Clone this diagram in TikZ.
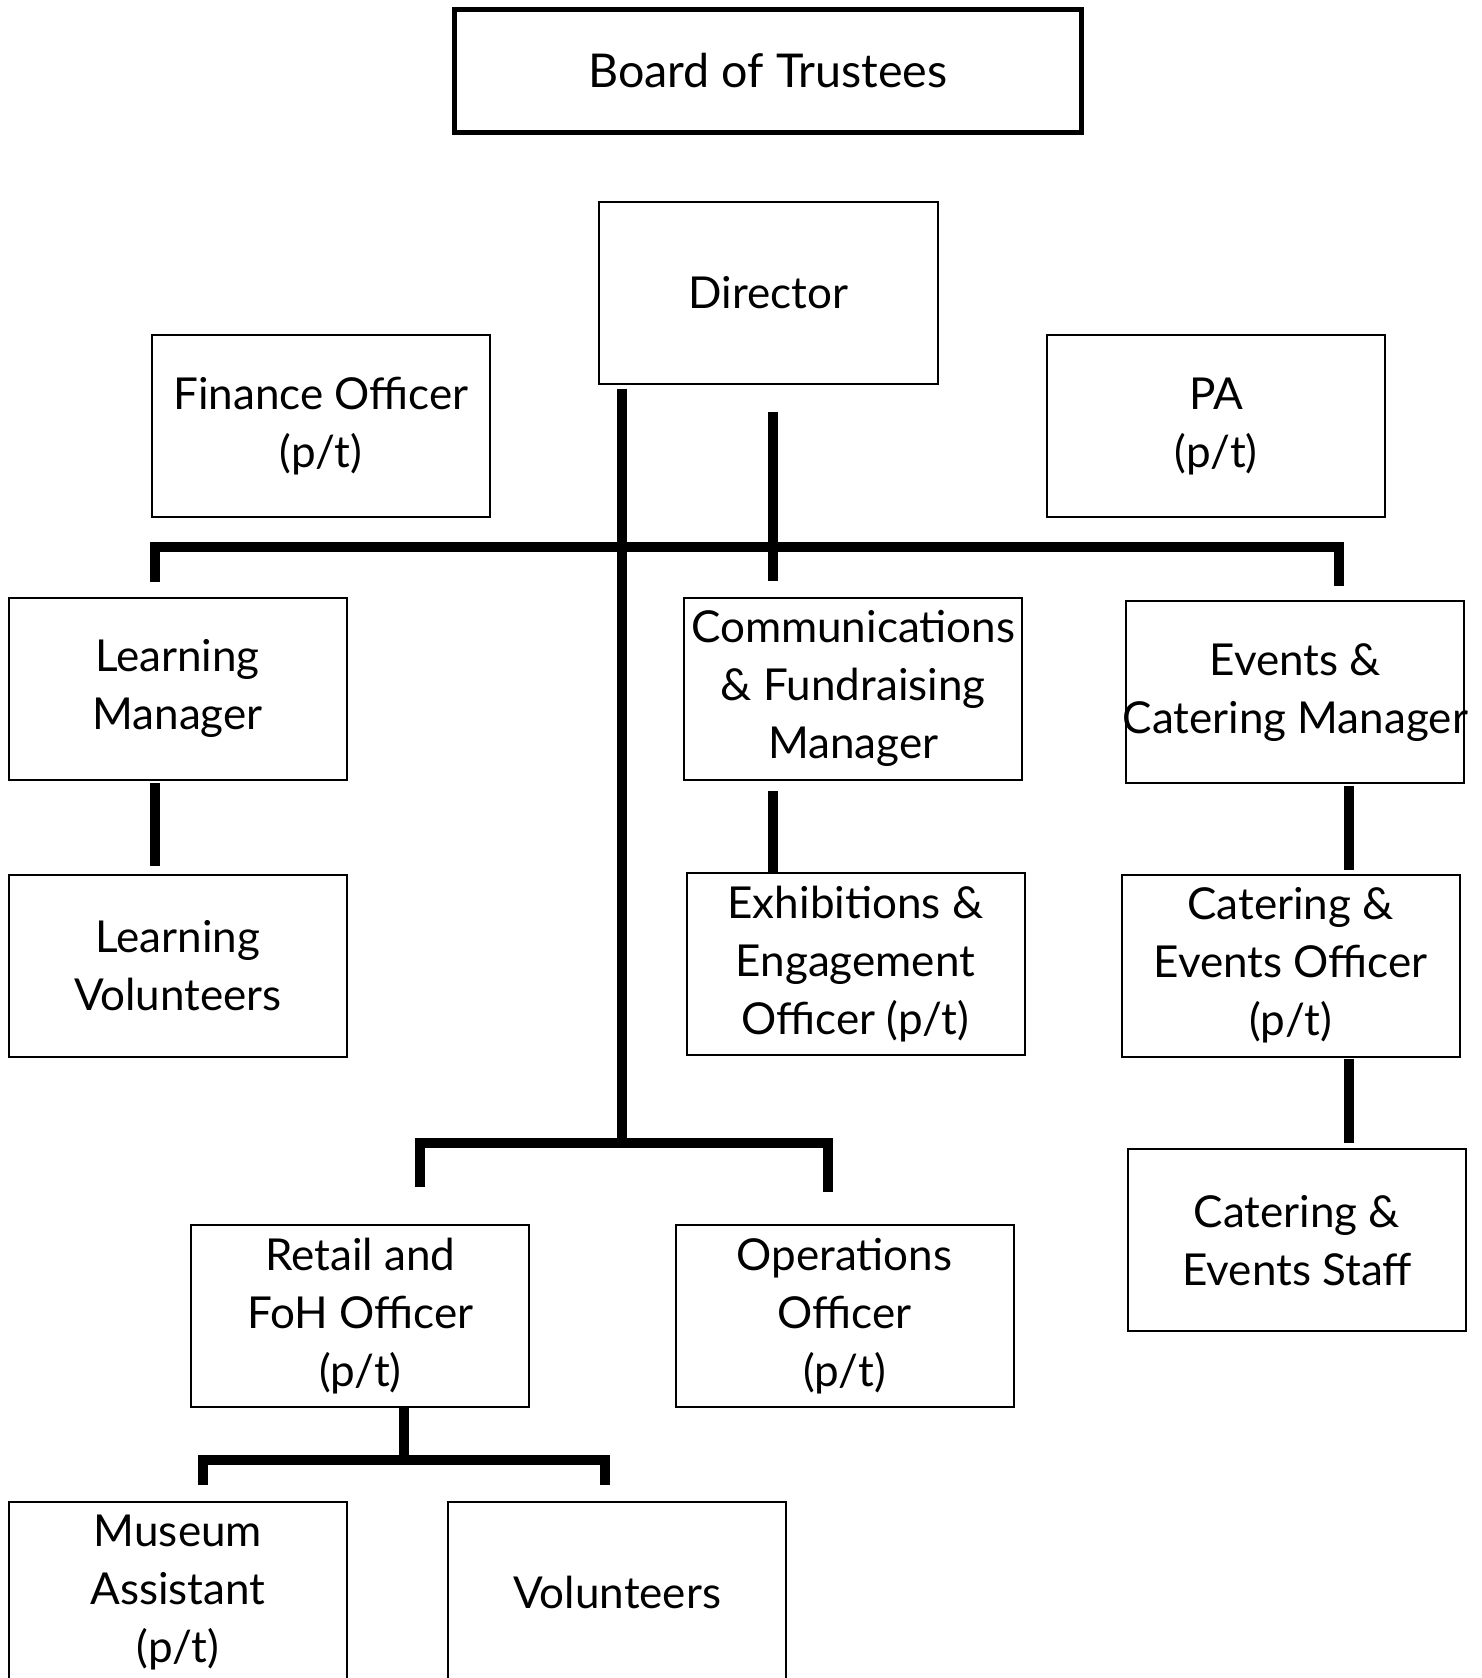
\documentclass[tikz,border=0pt]{standalone}
\usepackage{fontspec}
\setmainfont{Lato}
\begin{document}
\begin{tikzpicture}[x=0.5pt,y=-0.5pt,
  box/.style={draw=black, line width=1pt, minimum width=169pt, minimum height=91pt,
    inner sep=0pt, align=center, font=\fontsize{22}{29}\selectfont},
  bigbox/.style={box, line width=2.4pt, minimum width=313.6pt, minimum height=61.2pt,
    font=\fontsize{23.3}{29}\selectfont},
  conn/.style={draw=black, line width=5pt, line cap=butt, line join=miter}]
\useasboundingbox (0,0) rectangle (1482,1678);
\fill[white] (0,0) rectangle (1482,1678);

% boxes
\node[bigbox] (board) at (768,71) {Board of Trustees};
\node[box, minimum width=169.5pt] (dir) at (768.2,292.8) {Director};
\node[box] (fin) at (321,426.2) {Finance Officer\\(p/t)};
\node[box] (pa) at (1216.2,426.2) {PA\\(p/t)};
\node[box] (lm) at (177.5,688.7) {Learning\\Manager};
\node[box] (comms) at (853.2,688.7) {Communications\\\& Fundraising\\Manager};
\node[box] (ecm) at (1295.3,692.4) {Events \&\\\makebox[0pt]{Catering Manager}};
\node[box] (lv) at (177.9,966) {Learning\\Volunteers};
\node[box] (exh) at (855.5,964.4) {Exhibitions \&\\Engagement\\Officer (p/t)};
\node[box] (ceo) at (1290.7,965.7) {Catering \&\\Events Officer\\(p/t)};
\node[box] (ces) at (1297,1240.4) {Catering \&\\Events Staff};
\node[box] (retail) at (360.3,1316.4) {Retail and\\FoH Officer\\(p/t)};
\node[box] (ops) at (844.5,1316.4) {Operations\\Officer\\(p/t)};
\node[box] (ma) at (177.9,1592.7) {Museum\\Assistant\\(p/t)};
\node[box] (vol) at (617.2,1592.7) {Volunteers};

% connector coordinates
\coordinate (mainTop) at (621.5,388.5);
\coordinate (mainBot) at (621.5,1142.5);
\coordinate (dirStub) at (772.8,411.7);
\coordinate (dirStubEnd) at (772.8,581);
\coordinate (barL) at (155,546.5);
\coordinate (barR) at (1339,546.5);
\coordinate (lmDrop) at (155,581.5);
\coordinate (ecmDrop) at (1339,586);
\coordinate (lmOut) at (155,783);
\coordinate (lvIn) at (155,866);
\coordinate (commsOut) at (772.9,791);
\coordinate (exhIn) at (772.9,874);
\coordinate (ecmOut) at (1348.7,786.4);
\coordinate (ceoIn) at (1348.7,870);
\coordinate (ceoOut) at (1348.7,1058.6);
\coordinate (cesIn) at (1348.7,1142.5);
\coordinate (lowL) at (420.4,1142.5);
\coordinate (lowR) at (828,1142.5);
\coordinate (retailIn) at (420.4,1187.4);
\coordinate (opsIn) at (828,1192);
\coordinate (retailOut) at (404.2,1408);
\coordinate (retailBar) at (404.2,1460.3);
\coordinate (botL) at (202.7,1460.3);
\coordinate (botR) at (605,1460.3);
\coordinate (maIn) at (202.7,1485.2);
\coordinate (volIn) at (605,1485.2);

% connectors
\draw[conn] (mainTop) -- (mainBot);
\draw[conn] (dirStub) -- (dirStubEnd);
\draw[conn] (lmDrop) -- (barL) -- (barR) -- (ecmDrop);
\draw[conn] (lmOut) -- (lvIn);
\draw[conn] (commsOut) -- (exhIn);
\draw[conn] (ecmOut) -- (ceoIn);
\draw[conn] (ceoOut) -- (cesIn);
\draw[conn] (retailIn) -- (lowL) -- (lowR) -- (opsIn);
\draw[conn] (retailOut) -- (retailBar);
\draw[conn] (maIn) -- (botL) -- (botR) -- (volIn);
\end{tikzpicture}
\end{document}
